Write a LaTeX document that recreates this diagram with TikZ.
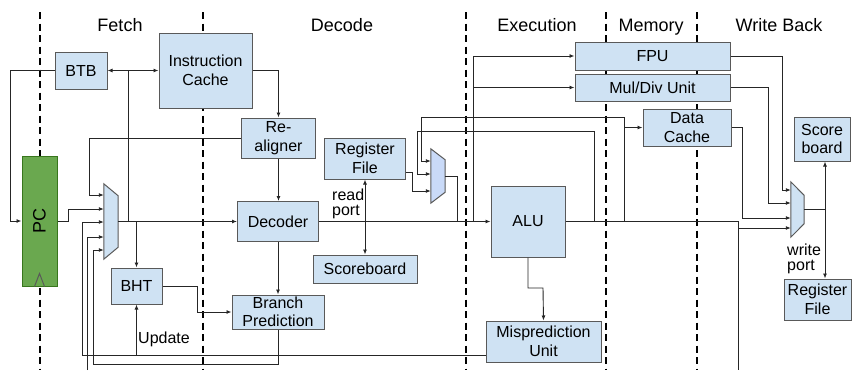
\documentclass[tikz,border=0pt]{standalone}
\usepackage{fontspec}
\setmainfont{Liberation Sans}
\usepackage{xcolor}
\usetikzlibrary{positioning,arrows.meta}
\definecolor{boxblue}{HTML}{CFE2F3}
\definecolor{muxblue}{HTML}{C9DAF8}
\definecolor{pcgreen}{HTML}{6AA84F}
\definecolor{pcdark}{HTML}{38761D}
\definecolor{edge}{HTML}{595959}

\begin{document}
\begin{tikzpicture}[x=1pt, y=-1pt, font=\fontsize{16}{18.5}\selectfont,
  >={Latex[length=5pt,width=4pt]},
  box/.style={draw=edge, fill=boxblue, line width=1pt, align=center, inner sep=0pt},
  muxbox/.style={minimum width=14pt, inner sep=0pt},
  lbl/.style={align=left, inner sep=0pt, font=\fontsize{16}{15}\selectfont},
  head/.style={font=\fontsize{18}{20}\selectfont, anchor=base},
  stage/.style={dash pattern=on 7pt off 4.5pt, line width=1.3pt, draw=black}]
\useasboundingbox (0,0) rectangle (856,370);

% pipeline stage borders
\foreach \x in {40,203,466,606,697}
  \draw[stage] (\x,12) -- (\x,370);

\node[head] (fetch) at (120,31) {Fetch};
\node[head] (decode) at (342,31) {Decode};
\node[head] (exec) at (537,31) {Execution};
\node[head] (mem) at (651,31) {Memory};
\node[head] (wb) at (779,31) {Write Back};

% fetch
\node[draw=pcdark, fill=pcgreen, line width=1pt, minimum width=35pt, minimum height=130pt, inner sep=0pt] (pc) at (39.5,221) {\fontsize{18}{18}\selectfont\rotatebox{90}{PC}};
\draw[draw=edge, line width=1pt] ([xshift=-5pt]pc.south) -- ([yshift=13pt]pc.south) -- ([xshift=5pt]pc.south);
\node[box, minimum width=52pt, minimum height=37pt] (btb) at (81,70.5) {BTB};
\node[box, minimum width=93pt, minimum height=75pt] (ic) at (205.5,70.5) {Instruction\\Cache};
\node[box, minimum width=51pt, minimum height=36pt] (bht) at (136.5,286) {BHT};
\node[muxbox, minimum height=75pt] (mux1) at (111,221.5) {};

% decode
\node[box, minimum width=74pt, minimum height=40pt] (realign) at (278.5,138) {Re-\\aligner};
\node[box, minimum width=81pt, minimum height=40pt] (dec) at (278,221.5) {Decoder};
\node[box, minimum width=92pt, minimum height=34pt] (bp) at (278,312) {Branch\\Prediction};
\node[box, minimum width=81pt, minimum height=41pt] (rf) at (365,158.5) {Register\\File};
\node[box, minimum width=104pt, minimum height=28pt] (sb) at (365,269) {Scoreboard};
\node[muxbox, minimum height=54pt] (mux2) at (438,176) {};

% execute / memory
\node[box, minimum width=74pt, minimum height=71pt] (alu) at (528,221.5) {ALU};
\node[box, minimum width=115pt, minimum height=41pt] (mis) at (543.5,341.5) {Misprediction\\Unit};
\node[box, minimum width=155pt, minimum height=28pt] (fpu) at (652.5,56) {FPU};
\node[box, minimum width=155pt, minimum height=27pt] (mdu) at (652.5,87.5) {Mul/Div Unit};
\node[box, minimum width=88pt, minimum height=37pt] (dc) at (687,127.5) {Data\\Cache};

% write back
\node[box, minimum width=56pt, minimum height=44pt] (wsb) at (822,139) {Score\\board};
\node[box, minimum width=67pt, minimum height=41pt] (wrf) at (817.5,299.5) {Register\\File};
\node[muxbox, minimum width=13pt, minimum height=55pt] (mux3) at (797.5,209.5) {};

% multiplexers
\foreach \m/\d/\c in {mux1/12/boxblue, mux2/11/muxblue, mux3/13.5/boxblue}
  \filldraw[draw=edge, fill=\c, line width=1pt] (\m.north west) -- ([yshift=-\d pt]\m.north east)
    -- ([yshift=\d pt]\m.south east) -- (\m.south west) -- cycle;

\node[lbl, anchor=west] (rdport) at (332,204) {read\\port};
\node[lbl, anchor=west] (wrport) at (787,259) {write\\port};
\node[lbl, anchor=west] (upd) at (138,339) {Update};

\begin{scope}[line width=0.9pt, black!85]
% fetch wiring
\coordinate (fj) at (128,221.5);
\draw[->] (mux1.east) -- (dec.west);
\draw[->] (fj) |- (btb.east);
\draw[->] (fj |- btb.east) -- (ic.west);
\draw[->] (btb.west) -| (10,221) -- (pc.west);
\draw[->] (pc.east) -- (68,221) |- (mux1.west |- 0,209);
\draw[->] (realign.west) -| (89,195) -- (mux1.west |- 0,195);
\draw[->] ([yshift=-13.5pt]mis.west) -| (82,222) -- (mux1.west |- 0,222);
\draw[->] (bht.south |- 0,355) -- (bht.south);
\draw[->] (87,370) |- (mux1.west |- 0,237);
\draw[->] (bp.south) |- (93,364) -- (93,250) -- (mux1.west |- 0,250);
\draw[->] (bht.north |- fj) -- (bht.north);

% decode wiring
\draw[->] (ic.east) -| (realign.north);
\draw[->] (realign.south) -- (realign.south |- dec.north);
\draw[->] (dec.south) -- (bp.north);
\draw[->] (bht.east) -| (197,312) -- (bp.west);
\draw[->] (dec.east) -- (alu.west);
\draw[<->] (rf.south) -- (sb.north);
\draw[->] ([yshift=-13.5pt]rf.east) -| (412,191) -- (mux2.west |- 0,191);
\draw (mux2.east) -| (457,221.5);

% execute wiring
\draw[->] (473,221.5) |- (fpu.west);
\draw[->] (473,221.5) |- (mdu.west);
\draw[->] (594,221.5) |- (417,131) |- (mux2.west |- 0,174);
\draw[->] (624,221.5) |- (421,117) |- (mux2.west |- 0,161);
\draw[->] (dc.west -| 624,0) -- (dc.west);
\draw[->] (alu.south) |- (543,288) -- (mis.north);
\draw[->] (alu.east) -| (738,228) -- (mux3.west |- 0,228);
\draw (738,221.5) -- (738,370);

% write back wiring
\draw[->] (fpu.east) -| (782,190) -- (mux3.west |- 0,190);
\draw[->] (mdu.east) -| (768,203) -- (mux3.west |- 0,203);
\draw[->] (dc.east) -| (742,218) -- (mux3.west |- 0,218);
\coordinate (wj) at (825,209.5);
\draw (mux3.east) -- (wj);
\draw[->] (wj) -- (wj |- wsb.south);
\draw[->] (wj) -- (wj |- wrf.north);
\end{scope}
\end{tikzpicture}
\end{document}
